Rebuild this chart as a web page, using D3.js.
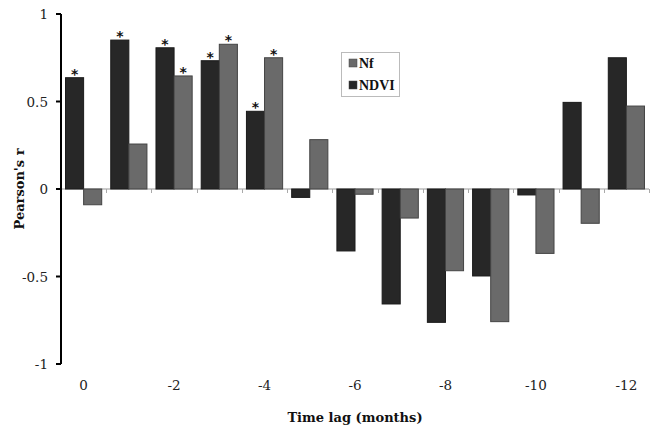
<!DOCTYPE html>
<html><head><meta charset="utf-8">
<script src="https://cdn.jsdelivr.net/npm/d3@7"></script>
<style>body{margin:0;background:#fff}svg{display:block}</style>
</head><body><svg id="c" width="653" height="430"></svg>
<script>
const lags = ["0","-1","-2","-3","-4","-5","-6","-7","-8","-9","-10","-11","-12"];
const tickLabels = ["0","-2","-4","-6","-8","-10","-12"];
const ndvi = [0.636,0.851,0.807,0.733,0.444,-0.048,-0.354,-0.657,-0.762,-0.497,-0.034,0.495,0.750];
const nf   = [-0.090,0.257,0.646,0.827,0.750,0.282,-0.030,-0.166,-0.467,-0.758,-0.368,-0.196,0.474];
const ndviSig = [1,1,1,1,1,0,0,0,0,0,0,0,0];
const nfSig   = [0,0,1,1,1,0,0,0,0,0,0,0,0];
const yTicks = [-1,-0.5,0,0.5,1];

const svg = d3.select("#c");
const L=61, R=649, T=14, B=364;
const x = d3.scaleBand().domain(lags).range([L,R]).paddingInner(0.2).paddingOuter(0.1);
const x0 = d3.scaleBand().domain(lags).range([L,R]);
const sub = d3.scaleBand().domain(["NDVI","Nf"]).range([0,x.bandwidth()]);
const y = d3.scaleLinear().domain([-1,1]).range([B,T]);
const serif = "'DejaVu Serif', serif";

// zero line with ticks
svg.append("line").attr("x1",L).attr("x2",R).attr("y1",y(0)).attr("y2",y(0)).attr("stroke","#999").attr("stroke-width",1);
svg.selectAll(".xt").data(lags).enter().append("line")
  .attr("x1",d=>Math.round(x0(d)+x0.step())+0.5).attr("x2",d=>Math.round(x0(d)+x0.step())+0.5)
  .attr("y1",y(0)).attr("y2",y(0)+4).attr("stroke","#aaa");

const series = [{k:"NDVI",v:ndvi,sig:ndviSig,fill:"#272727",stroke:"#1a1a1a"},{k:"Nf",v:nf,sig:nfSig,fill:"#6a6a6a",stroke:"#444"}];
series.forEach(s=>{
  const rows = s.v.map((v,i)=>({lag:lags[i],v:v,sig:s.sig[i]}));
  svg.selectAll(".b"+s.k).data(rows).enter().append("rect")
    .attr("x",d=>x(d.lag)+sub(s.k))
    .attr("width",sub.bandwidth())
    .attr("y",d=>y(Math.max(0,d.v)))
    .attr("height",d=>Math.abs(y(d.v)-y(0)))
    .attr("fill",s.fill).attr("stroke",s.stroke).attr("stroke-width",1);
  svg.selectAll(".s"+s.k).data(rows.filter(d=>d.sig)).enter().append("text")
    .attr("x",d=>x(d.lag)+sub(s.k)+sub.bandwidth()/2)
    .attr("y",d=>y(d.v)+1)
    .attr("text-anchor","middle").attr("font-family","'DejaVu Sans', sans-serif").attr("font-weight","bold")
    .attr("font-size",14).attr("fill","#111").text("*");
});

// y axis
svg.append("line").attr("x1",L).attr("x2",L).attr("y1",T).attr("y2",B).attr("stroke","#000").attr("stroke-width",2);
svg.selectAll(".yt").data(yTicks).enter().append("line")
  .attr("x1",L-5).attr("x2",L).attr("y1",d=>y(d)).attr("y2",d=>y(d)).attr("stroke","#000").attr("stroke-width",2);
svg.selectAll(".yl").data(yTicks).enter().append("text")
  .attr("x",L-13).attr("y",d=>y(d)+5).attr("text-anchor","end")
  .attr("font-family",serif).attr("font-size",13.5).attr("fill","#222").text(d=>d);

// x tick labels
svg.selectAll(".xl").data(tickLabels).enter().append("text")
  .attr("x",d=>x(d)+x.bandwidth()/2).attr("y",390).attr("text-anchor","middle")
  .attr("font-family",serif).attr("font-size",13.5).attr("fill","#222").text(d=>d);

// axis titles
svg.append("text").attr("x",355).attr("y",422).attr("text-anchor","middle")
  .attr("font-family",serif).attr("font-weight","bold").attr("font-size",13).attr("fill","#111").text("Time lag (months)");
svg.append("text").attr("transform","translate(24,189) rotate(-90)").attr("text-anchor","middle")
  .attr("font-family",serif).attr("font-weight","bold").attr("font-size",13).attr("fill","#111").text("Pearson's r");

// legend
const lg = svg.append("g");
lg.append("rect").attr("x",341.5).attr("y",52.5).attr("width",58).attr("height",44).attr("fill","#fff").attr("stroke","#bbb");
[{k:"Nf",fill:"#6a6a6a",yy:63},{k:"NDVI",fill:"#272727",yy:85}].forEach(e=>{
  lg.append("rect").attr("x",349).attr("y",e.yy-4).attr("width",8).attr("height",8).attr("fill",e.fill).attr("stroke","#444").attr("stroke-width",0.5);
  lg.append("text").attr("x",359).attr("y",e.yy+5).attr("font-family","'Liberation Serif', serif").attr("font-weight","bold")
    .attr("font-size",14).attr("fill","#111").text(e.k);
});
</script></body></html>
